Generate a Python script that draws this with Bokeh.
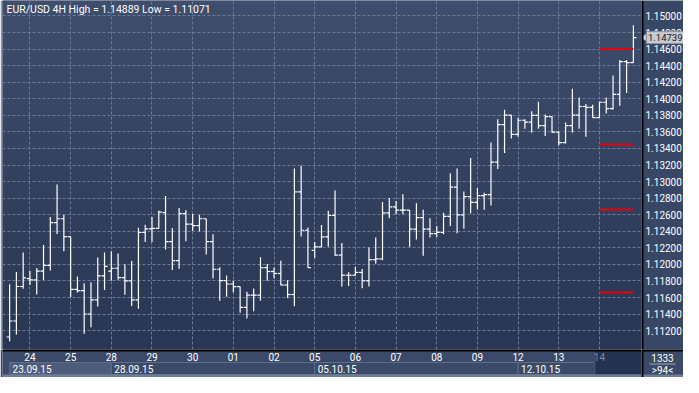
import math
import numpy as np
from bokeh.plotting import figure
from bokeh.models import (Range1d, FixedTicker, Label, ColumnDataSource, Span, Grid)
from bokeh.layouts import column, row
from bokeh.transform import dodge
from bokeh.embed import file_html
from bokeh.resources import INLINE
from bokeh.core.properties import value

# ---------------- data (EUR/USD, 4H bars) ----------------
opens = [1.11123, 1.11316, 1.11733, 1.11829, 1.11814, 1.11918, 1.11988, 1.12505, 1.12551, 1.12335,
         1.11698, 1.11683, 1.11401, 1.11571, 1.11860, 1.11918, 1.11953, 1.11841, 1.11802, 1.11571,
         1.12385, 1.12428, 1.12436, 1.12624, 1.12276, 1.12045, 1.12612, 1.12485, 1.12469, 1.12551,
         1.12276, 1.11941, 1.11805, 1.11763, 1.11732, 1.11481, 1.11628, 1.11628, 1.11960, 1.11914,
         1.11890, 1.11751, 1.11636, 1.12875, 1.12412, 1.12170, 1.12212, 1.12332, 1.12591, 1.12112,
         1.11869, 1.11869, 1.11903, 1.11802, 1.12057, 1.12066, 1.12622, 1.12695, 1.12656, 1.12656,
         1.12425, 1.12564, 1.12425, 1.12371, 1.12386, 1.12579, 1.12934, 1.12598, 1.12819, 1.12749,
         1.12830, 1.12842, 1.13236, 1.13687, 1.13803, 1.13571, 1.13741, 1.13718, 1.13799, 1.13676,
         1.13784, 1.13598, 1.13471, 1.13676, 1.13803, 1.13907, 1.13896, 1.13772, 1.13958, 1.13880,
         1.14054, 1.14448, 1.14436]
highs = [1.11760, 1.11907, 1.12142, 1.11922, 1.11957, 1.12235, 1.12571, 1.12964, 1.12598, 1.12335,
         1.11853, 1.11771, 1.11783, 1.12084, 1.12142, 1.12158, 1.12131, 1.12003, 1.12042, 1.12443,
         1.12478, 1.12571, 1.12648, 1.12825, 1.12439, 1.12682, 1.12655, 1.12608, 1.12597, 1.12551,
         1.12365, 1.11964, 1.11867, 1.11798, 1.11732, 1.11670, 1.11709, 1.12087, 1.12006, 1.11960,
         1.12045, 1.11809, 1.13157, 1.13192, 1.12446, 1.12270, 1.12475, 1.12649, 1.12892, 1.12257,
         1.11906, 1.11971, 1.11945, 1.12203, 1.12324, 1.12753, 1.12803, 1.12764, 1.12846, 1.12656,
         1.12737, 1.12660, 1.12556, 1.12463, 1.12625, 1.13100, 1.13158, 1.12880, 1.13286, 1.12923,
         1.12865, 1.13471, 1.13753, 1.13869, 1.13803, 1.13772, 1.13753, 1.13849, 1.13965, 1.13811,
         1.13792, 1.13606, 1.13714, 1.14120, 1.14015, 1.13938, 1.13927, 1.13965, 1.14015, 1.14282,
         1.14467, 1.14467, 1.14889]
lows = [1.11071, 1.11154, 1.11706, 1.11752, 1.11636, 1.11810, 1.11926, 1.12366, 1.12158, 1.11605,
        1.11659, 1.11161, 1.11242, 1.11490, 1.11690, 1.11802, 1.11814, 1.11632, 1.11497, 1.11463,
        1.12270, 1.12270, 1.12431, 1.12180, 1.11933, 1.11948, 1.12280, 1.12404, 1.12396, 1.12118,
        1.11829, 1.11562, 1.11608, 1.11663, 1.11415, 1.11346, 1.11435, 1.11562, 1.11802, 1.11832,
        1.11747, 1.11593, 1.11493, 1.12338, 1.11960, 1.12077, 1.12208, 1.12212, 1.12104, 1.11733,
        1.11740, 1.11867, 1.11713, 1.11733, 1.12008, 1.12050, 1.12556, 1.12606, 1.12606, 1.12212,
        1.12301, 1.12104, 1.12324, 1.12332, 1.12363, 1.12463, 1.12375, 1.12429, 1.12614, 1.12664,
        1.12660, 1.12710, 1.13151, 1.13344, 1.13521, 1.13541, 1.13637, 1.13591, 1.13637, 1.13552,
        1.13591, 1.13436, 1.13460, 1.13591, 1.13637, 1.13541, 1.13772, 1.13772, 1.13822, 1.13870,
        1.13915, 1.14069, 1.14436]
closes = [1.11316, 1.11733, 1.11837, 1.11814, 1.11918, 1.11988, 1.12505, 1.12551, 1.12335, 1.11698,
          1.11683, 1.11401, 1.11571, 1.11860, 1.11976, 1.11953, 1.11841, 1.11802, 1.11571, 1.12385,
          1.12428, 1.12436, 1.12632, 1.12276, 1.12045, 1.12612, 1.12485, 1.12469, 1.12551, 1.12276,
          1.11941, 1.11805, 1.11763, 1.11732, 1.11481, 1.11628, 1.11628, 1.11960, 1.11914, 1.11890,
          1.11751, 1.11636, 1.12875, 1.12412, 1.11960, 1.12212, 1.12332, 1.12591, 1.12112, 1.11869,
          1.11869, 1.11903, 1.11802, 1.12057, 1.12066, 1.12622, 1.12695, 1.12656, 1.12656, 1.12425,
          1.12564, 1.12425, 1.12371, 1.12386, 1.12579, 1.12934, 1.12598, 1.12819, 1.12749, 1.12830,
          1.12842, 1.13236, 1.13687, 1.13803, 1.13571, 1.13741, 1.13718, 1.13799, 1.13676, 1.13784,
          1.13598, 1.13471, 1.13676, 1.13803, 1.13907, 1.13896, 1.13772, 1.13958, 1.13880, 1.14054,
          1.14448, 1.14436, 1.14739]

day_starts = [3, 9, 15, 21, 27, 33, 39, 45, 51, 57, 63, 69, 75, 81, 87]
day_labels = ["24", "25", "28", "29", "30", "01", "02", "05", "06", "07", "08", "09", "12", "13", "14"]
week_starts = [0, 15, 45, 75]
week_labels = ["23.09.15", "28.09.15", "05.10.15", "12.10.15"]
price_ticks = [round(1.112 + 0.002 * i, 3) for i in range(20)]
red_levels = [1.14600, 1.13448, 1.12663, 1.11659]
red_from, red_to = 87, 92
bars_shown = 94
count_label = "1333"

# ---------------- layout constants ----------------
X0, X1 = -1.05, 93.2
Y0, Y1 = 1.10972, 1.15187
FW, FH, BH, RW = 639, 349, 28, 42
FONT = "Roboto"
AXIS_BG = "#394766"
BAND_BG = "#3c4a69"
GRID_C = "#6b7a98"
idx = list(range(len(opens)))

# ---------------- main price panel ----------------
p = figure(frame_width=FW, frame_height=FH, x_range=Range1d(X0, X1), y_range=Range1d(Y0, Y1),
           output_backend="svg", toolbar_location=None, x_axis_location=None, y_axis_location=None,
           min_border_left=2, min_border_right=0, min_border_top=0, min_border_bottom=0,
           border_fill_color="#8f9ab0", background_fill_color="#33415f")
p.outline_line_color = None

# vertical gradient background
N = 64
top = np.array([62, 78, 108], dtype=float)
bot = np.array([41, 54, 84], dtype=float)
img = np.empty((N, 1), dtype=np.uint32)
view = img.view(dtype=np.uint8).reshape((N, 1, 4))
for i in range(N):
    t = i / (N - 1)
    c = bot + (top - bot) * t
    view[i, 0, 0:3] = c.astype(np.uint8)
    view[i, 0, 3] = 255
bg = p.image_rgba(image=[img], x=X0, y=Y0, dw=X1 - X0, dh=Y1 - Y0)
bg.level = "image"

p.grid.visible = False
p.add_layout(Grid(dimension=1, ticker=FixedTicker(ticks=price_ticks),
                  grid_line_color=GRID_C, grid_line_dash="3 2"))
p.add_layout(Grid(dimension=0, ticker=FixedTicker(ticks=day_starts),
                  grid_line_color=GRID_C, grid_line_dash="3 2"))

src = ColumnDataSource(dict(x=idx, o=opens, h=highs, l=lows, c=closes))
p.segment(x0="x", y0="l", x1="x", y1="h", source=src, line_color="white", line_width=1.2)
p.segment(x0=dodge("x", -0.45), y0="o", x1="x", y1="o", source=src, line_color="white", line_width=1.2)
p.segment(x0="x", y0="c", x1=dodge("x", 0.45), y1="c", source=src, line_color="white", line_width=1.2)

p.segment(x0=[red_from] * len(red_levels), y0=red_levels, x1=[red_to] * len(red_levels), y1=red_levels,
          line_color="#e8000a", line_width=2)

p.add_layout(Label(x=X0, y=Y1, x_offset=4, y_offset=-2,
                   text=f"EUR/USD 4H High = {max(highs):.5f} Low = {min(lows):.5f}",
                   text_baseline="top", text_color="white", text_font=FONT, text_font_size="10.5px"))

# ---------------- right price scale ----------------
r = figure(frame_width=RW, frame_height=FH, x_range=Range1d(0, RW), y_range=p.y_range,
           output_backend="svg", toolbar_location=None, x_axis_location=None, y_axis_location=None,
           min_border=0, background_fill_color=AXIS_BG, border_fill_color=AXIS_BG)
r.grid.visible = False
r.outline_line_color = None
r.add_layout(Span(location=0, dimension="height", line_color="black", line_width=4))
r.text(x=[4] * len(price_ticks), y=price_ticks, text=[f"{t:.5f}" for t in price_ticks],
       text_color="white", text_align="left", text_baseline="middle",
       text_font=value(FONT), text_font_size="10px")
r.scatter(x=[3.8], y=[closes[-1]], marker="triangle", size=9, angle=math.pi / 2,
          fill_color="#c6cad3", line_color=None)
r.rect(x=[23.5], y=[closes[-1]], width=37, height=12, height_units="screen",
       fill_color="#c6cad3", line_color="#8a92a3", line_width=1)
r.text(x=[6.5], y=[closes[-1]], text=[f"{closes[-1]:.5f}"], text_color="#151515",
       text_align="left", text_baseline="middle", text_font=value(FONT), text_font_size="9.5px")

# ---------------- bottom date band ----------------
b = figure(frame_width=FW, frame_height=BH, x_range=p.x_range, y_range=Range1d(0, BH),
           output_backend="svg", toolbar_location=None, x_axis_location=None, y_axis_location=None,
           min_border_left=2, min_border_right=0, min_border_top=0, min_border_bottom=0,
           border_fill_color=BAND_BG, background_fill_color=BAND_BG)
b.grid.visible = False
b.outline_line_color = None

cur_start = day_starts[-1] - 0.7
week_ends = week_starts[1:] + [cur_start]
b.quad(left=week_starts, right=week_ends, bottom=3, top=15,
       fill_color=["#4e5c7b", BAND_BG, BAND_BG, BAND_BG], line_color="#5f6d8b", line_width=1)
b.quad(left=[cur_start], right=[X1], bottom=[3], top=[27], fill_color="#25324f", line_color="#4a5878")
b.quad(left=[X0], right=[X1], bottom=[0], top=[3], fill_color="#6f7d99", line_color=None)
b.add_layout(Span(location=BH, dimension="width", line_color="black", line_width=4))

day_colors = ["white"] * (len(day_labels) - 1) + ["#7d8aa4"]
b.text(x=day_starts, y=[21] * len(day_starts), text=day_labels, text_color=day_colors,
       text_align="center", text_baseline="middle", text_font=value(FONT), text_font_size="10px")
b.text(x=week_starts, y=[9] * len(week_starts), text=week_labels, x_offset=3, text_color="white",
       text_align="left", text_baseline="middle", text_font=value(FONT), text_font_size="10px")

# ---------------- bottom-right counter box ----------------
br = figure(frame_width=RW, frame_height=BH, x_range=Range1d(0, RW), y_range=Range1d(0, BH),
            output_backend="svg", toolbar_location=None, x_axis_location=None, y_axis_location=None,
            min_border=0, background_fill_color=BAND_BG, border_fill_color=BAND_BG)
br.grid.visible = False
br.outline_line_color = None
br.add_layout(Span(location=BH, dimension="width", line_color="black", line_width=4))
br.add_layout(Span(location=0, dimension="height", line_color="black", line_width=4))
br.quad(left=[0], right=[RW], bottom=[0], top=[3], fill_color="#6f7d99", line_color=None)
br.text(x=[21, 21], y=[20, 7], text=[count_label, f">{bars_shown}<"], text_color="white",
        text_align="center", text_baseline="middle", text_font=value(FONT), text_font_size="10px")
br.segment(x0=[8], y0=[13.5], x1=[34], y1=[13.5], line_color="#9aa5bb", line_width=1)

layout = row(column(p, b, spacing=0), column(r, br, spacing=0), spacing=0)
open("out.html", "w").write(file_html(layout, INLINE))
